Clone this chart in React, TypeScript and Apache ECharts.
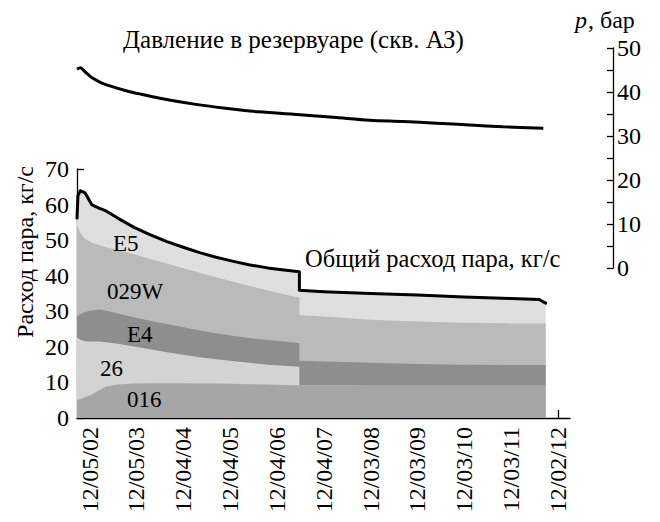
import React, { useEffect, useRef } from "react";
import * as echarts from "echarts";

// x positions in "tick index" units (0 = 12/05/02, 10 = 12/02/12)
const xs = [
  -0.27, -0.25, -0.2, -0.1, 0.05, 0.2, 0.35, 0.6, 0.95, 1.3, 1.65, 2.0, 2.35, 2.7, 3.05, 3.4, 3.8,
  4.15, 4.48, 4.48, 5.0, 6.0, 7.0, 8.0, 9.0, 9.6, 9.74,
];
// layer thickness, kg/s (bottom to top)
const v016 = [
  5.0, 5.1, 5.3, 5.8, 6.6, 7.8, 8.8, 9.4, 9.7, 9.8, 9.8, 9.8, 9.7, 9.7, 9.6, 9.5, 9.4, 9.3, 9.2,
  9.2, 9.2, 9.1, 9.1, 9.1, 9.1, 9.1, 9.1,
];
const v26 = [
  17.6, 17.4, 16.7, 15.8, 14.9, 13.7, 12.5, 11.5, 10.4, 9.5, 8.7, 8.0, 7.4, 6.8, 6.4, 6.0, 5.6,
  5.4, 5.2, 0, 0, 0, 0, 0, 0, 0, 0,
];
const vE4 = [
  6.0, 6.2, 7.2, 8.2, 8.7, 9.0, 8.9, 8.5, 8.2, 8.0, 7.9, 7.7, 7.5, 7.3, 7.1, 7.0, 6.9, 6.8, 6.7,
  6.9, 6.7, 6.4, 6.1, 5.9, 5.8, 5.8, 5.8,
];
const v029W = [
  25.6, 24.9, 22.8, 20.6, 19.1, 18.1, 17.8, 17.8, 17.7, 17.4, 17.0, 16.6, 16.2, 15.8, 15.3, 14.7,
  14.0, 13.3, 12.7, 12.8, 12.6, 12.1, 11.9, 11.8, 11.7, 11.7, 11.7,
];
const vE5 = [
  2.0, 8.9, 11.9, 12.9, 10.6, 10.4, 10.2, 9.0, 7.6, 6.8, 6.2, 5.9, 5.7, 5.6, 5.7, 5.9, 6.3, 6.8,
  7.3, 7.0, 7.0, 7.4, 7.5, 7.2, 7.0, 6.7, 5.7,
];

// reservoir pressure, bar
const pressureX = [
  -0.27, -0.2, -0.1, 0.07, 0.25, 0.43, 0.78, 1.1, 1.5, 2.2, 2.9, 3.6, 4.56, 5.27, 5.98, 6.69, 7.41,
  8.12, 8.83, 9.69,
];
const pressure = [
  45.2, 45.5, 44.6, 43.1, 42.1, 41.4, 40.3, 39.5, 38.6, 37.3, 36.3, 35.5, 34.8, 34.2, 33.6, 33.3,
  32.9, 32.5, 32.1, 31.75,
];

const tickLabels = [
  "12/05/02", "12/05/03", "12/04/04", "12/04/05", "12/04/06", "12/04/07",
  "12/03/08", "12/03/09", "12/03/10", "12/03/11", "12/02/12",
];

const layerNames = ["016", "26", "E4", "029W", "E5"];
const layerColors = ["#a6a6a6", "#d3d3d3", "#8e8e8e", "#bababa", "#dfdfdf"];

const FONT = "Liberation Serif";

export default function App() {
  const ref = useRef<HTMLDivElement>(null);
  useEffect(() => {
    if (!ref.current) return;
    const chart = echarts.init(ref.current, undefined, { renderer: "svg" });
    const layers = [v016, v26, vE4, v029W, vE5];
    const cum: number[][] = [];
    layers.forEach((arr, li) => {
      cum.push(arr.map((v, i) => +(v + (li > 0 ? cum[li - 1][i] : 0)).toFixed(2)));
    });
    const areaSeries = layers
      .map((_, li) => ({
        name: layerNames[li],
        type: "line",
        xAxisIndex: 0,
        yAxisIndex: 0,
        symbol: "none",
        lineStyle: { width: 0 },
        areaStyle: { color: layerColors[li], opacity: 1 },
        data: xs.map((x, i) => [x, cum[li][i]]),
        silent: true,
      }))
      .reverse();
    const tickIdx = tickLabels.map((_, i) => i);
    const axisText = { color: "#000", fontFamily: FONT, fontSize: 24 };
    const axisLineStyle = { color: "#000", width: 1.3 };
    const txt = (text: string, x: number, y: number, size: number, extra: any = {}) => ({
      type: "text",
      x,
      y,
      z: 10,
      style: { text, fontFamily: FONT, fontSize: size, fill: "#000", ...extra },
    });
    const option = {
      animation: false,
      backgroundColor: "#fff",
      grid: [
        { left: 77, right: 90, top: 169, bottom: 104 },
        { left: 77, right: 90, top: 48, bottom: 254 },
      ],
      xAxis: [
        {
          type: "value",
          gridIndex: 0,
          min: -0.27,
          max: 10.26,
          splitLine: { show: false },
          axisLine: { show: true, onZero: false, lineStyle: axisLineStyle },
          axisTick: { show: true, inside: true, length: 8, customValues: tickIdx, lineStyle: axisLineStyle },
          axisLabel: {
            ...axisText,
            customValues: tickIdx,
            rotate: 90,
            margin: 9,
            formatter: (v: number) => tickLabels[Math.round(v)] ?? "",
          },
        },
        {
          type: "value",
          gridIndex: 1,
          min: -0.27,
          max: 10.26,
          show: false,
        },
      ],
      yAxis: [
        {
          type: "value",
          gridIndex: 0,
          min: 0,
          max: 70,
          interval: 10,
          splitLine: { show: false },
          axisLine: { show: true, onZero: false, lineStyle: axisLineStyle },
          axisTick: { show: true, inside: true, length: 7, lineStyle: axisLineStyle },
          axisLabel: { ...axisText, margin: 8 },
        },
        {
          type: "value",
          gridIndex: 1,
          position: "right",
          offset: 43,
          min: 0,
          max: 50,
          interval: 5,
          splitLine: { show: false },
          axisLine: { show: true, onZero: false, lineStyle: axisLineStyle },
          axisTick: { show: true, inside: true, length: 6, lineStyle: axisLineStyle },
          axisLabel: {
            ...axisText,
            margin: 4,
            formatter: (v: number) => (v % 10 === 0 ? String(v) : ""),
          },
        },
      ],
      series: [
        ...areaSeries,
        {
          name: "Общий расход пара",
          type: "line",
          xAxisIndex: 0,
          yAxisIndex: 0,
          symbol: "none",
          lineStyle: { color: "#000", width: 3, cap: "round", join: "round" },
          data: xs.map((x, i) => [x, cum[4][i]]),
          silent: true,
          z: 5,
        },
        {
          name: "Давление",
          type: "line",
          xAxisIndex: 1,
          yAxisIndex: 1,
          symbol: "none",
          smooth: 0.3,
          lineStyle: { color: "#000", width: 3 },
          data: pressureX.map((x, i) => [x, pressure[i]]),
          silent: true,
        },
      ],
      graphic: [
        txt("Давление в резервуаре (скв. АЗ)", 123, 27, 25),
        txt("p", 575, 8, 24, { fontStyle: "italic" }),
        txt(", бар", 588, 8, 24),
        txt("Общий расход пара, кг/с", 305, 246, 24.5),
        {
          ...txt("Расход пара, кг/с", 25, 252, 24, { align: "center", verticalAlign: "middle" }),
          rotation: Math.PI / 2,
        },
        txt("E5", 113, 232, 23),
        txt("029W", 107, 280, 23),
        txt("E4", 127, 323, 23),
        txt("26", 100, 357, 23),
        txt("016", 127, 388, 23),
      ],
    };
    chart.setOption(option as any);
    return () => chart.dispose();
  }, []);
  return (
    <div
      ref={ref}
      style={{ position: "absolute", left: 0, top: 0, width: 660, height: 522, background: "#fff" }}
    />
  );
}
